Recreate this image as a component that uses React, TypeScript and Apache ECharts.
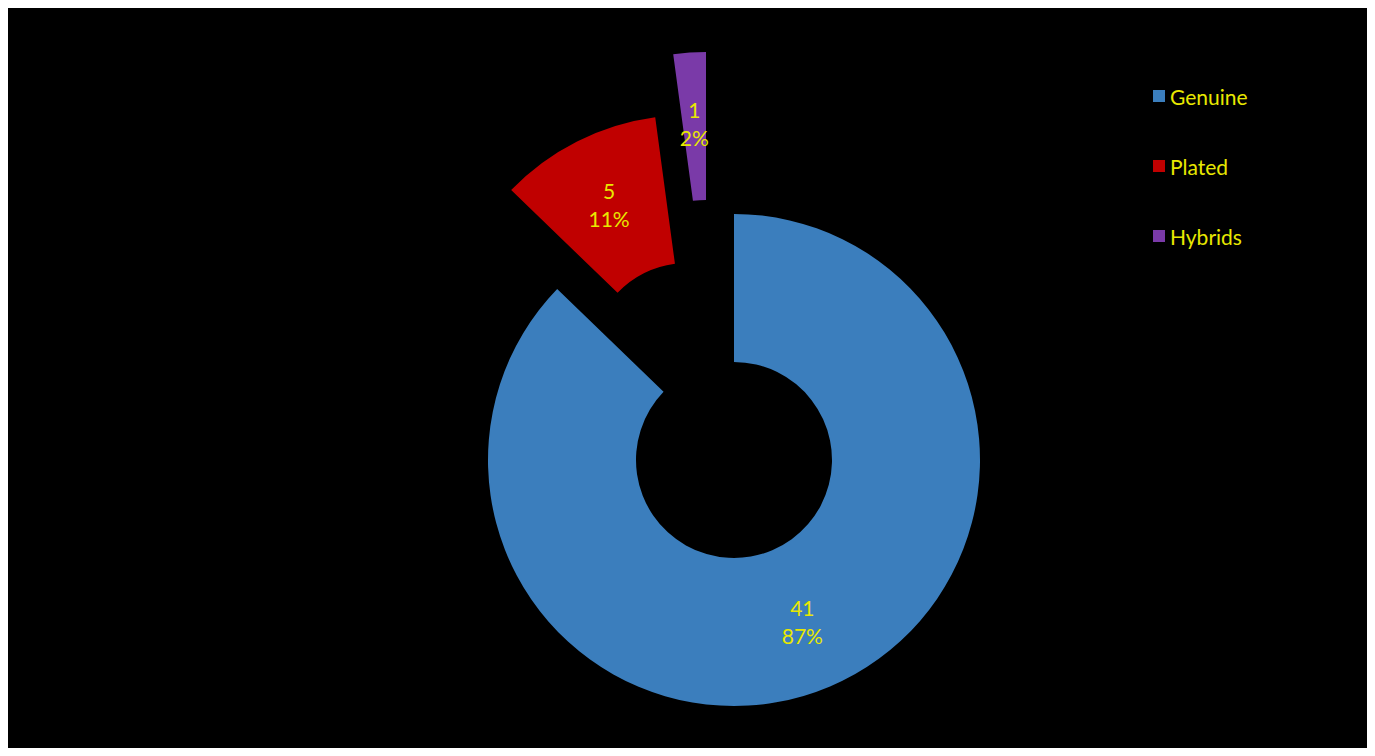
import React, { useEffect, useRef } from "react";
import * as echarts from "echarts";

const categories = ["Genuine", "Plated", "Hybrids"];
const values = [41, 5, 1];
const colors = ["#3b7ebd", "#c00000", "#7a3aa8"];
// pie centre of each (exploded) slice, in px inside the chart div
const centers = [
  [726, 452],
  [680, 353],
  [698, 290],
];

const TEXT = "#e8e800";
const FONT = "Lato, 'Open Sans', sans-serif";

export default function App() {
  const ref = useRef<HTMLDivElement>(null);
  useEffect(() => {
    if (!ref.current) return;
    const chart = echarts.init(ref.current, null, { renderer: "svg" });
    const series = categories.map((_, si) => ({
      type: "pie",
      silent: true,
      center: centers[si],
      radius: [98, 246],
      startAngle: 90,
      clockwise: true,
      percentPrecision: 0,
      avoidLabelOverlap: false,
      labelLine: { show: false },
      emphasis: { disabled: true },
      data: categories.map((name, i) => ({
        name,
        value: values[i],
        itemStyle: i === si ? { color: colors[i] } : { color: "rgba(0,0,0,0)", opacity: 0 },
        label:
          i === si
            ? {
                show: true,
                position: "inside",
                formatter: "{c}\n{d}%",
                color: TEXT,
                fontSize: 21,
                lineHeight: 28,
                fontFamily: FONT,
              }
            : { show: false },
      })),
    }));
    chart.setOption({
      animation: false,
      backgroundColor: "#000000",
      legend: {
        orient: "vertical",
        left: 1140,
        top: 72,
        itemGap: 48,
        itemWidth: 12,
        itemHeight: 12,
        icon: "rect",
        selectedMode: false,
        textStyle: { color: TEXT, fontSize: 21, lineHeight: 22, fontFamily: FONT },
        data: categories.map((name, i) => ({
          name,
          itemStyle: { color: colors[i], opacity: 1 },
        })),
      },
      series,
    });
    return () => chart.dispose();
  }, []);
  return <div ref={ref} style={{ width: 1360, height: 748, marginBottom: -8 }} />;
}
